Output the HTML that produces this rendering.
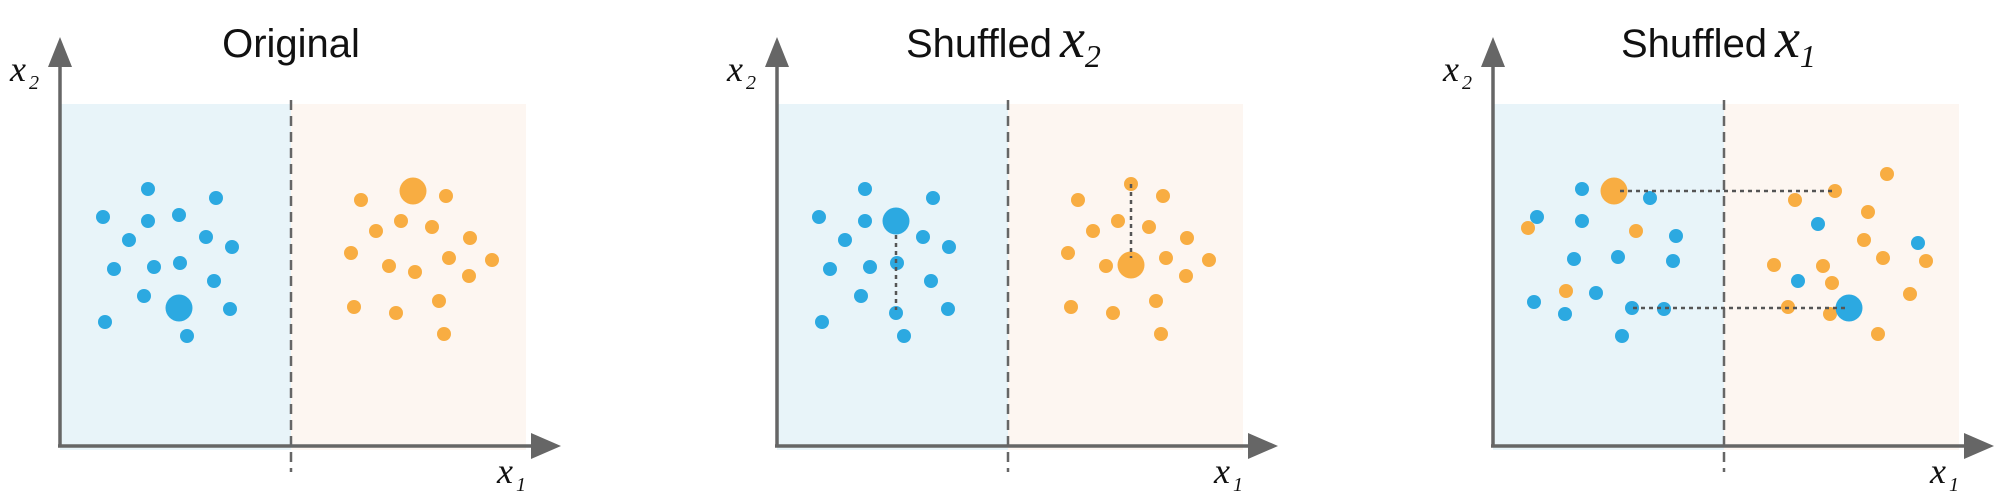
<!DOCTYPE html>
<html><head><meta charset="utf-8"><style>
html,body{margin:0;padding:0;background:#fff}
svg{display:block}
.t{font-family:"Liberation Sans",sans-serif;font-size:40px;fill:#111}
.m{font-family:"Liberation Serif",serif;font-style:italic;fill:#111}
</style></head><body>
<svg width="2000" height="500" viewBox="0 0 2000 500" xmlns="http://www.w3.org/2000/svg">
<defs>
<g id="frame">
  <rect x="60" y="104" width="231" height="346" fill="#e8f4f9"/>
  <rect x="291" y="104" width="235" height="346" fill="#fdf6f1"/>
  <line x1="291" y1="100" x2="291" y2="472" stroke="#666" stroke-width="2.5" stroke-dasharray="10,6"/>
  <line x1="60" y1="446" x2="60" y2="62" stroke="#666" stroke-width="3.5"/>
  <line x1="58" y1="446" x2="535" y2="446" stroke="#666" stroke-width="3.5"/>
  <polygon points="60,37 48,67 72,67" fill="#666"/>
  <polygon points="561,446 531,433 531,459" fill="#666"/>
  <text class="m" x="10" y="81" font-size="36">x</text><text class="m" x="29" y="89" font-size="20">2</text>
  <text class="m" x="497" y="483" font-size="36">x</text><text class="m" x="516" y="491" font-size="20">1</text>
</g>
</defs>

<!-- Panel 1 -->
<use href="#frame"/>
<text class="t" x="291" y="57" text-anchor="middle">Original</text>
<g fill="#2ca9e1">
<circle cx="148" cy="189" r="7"/><circle cx="216" cy="198" r="7"/><circle cx="103" cy="217" r="7"/><circle cx="148" cy="221" r="7"/><circle cx="179" cy="215" r="7"/><circle cx="129" cy="240" r="7"/><circle cx="206" cy="237" r="7"/><circle cx="232" cy="247" r="7"/><circle cx="114" cy="269" r="7"/><circle cx="154" cy="267" r="7"/><circle cx="180" cy="263" r="7"/><circle cx="214" cy="281" r="7"/><circle cx="144" cy="296" r="7"/><circle cx="179" cy="308" r="13.5"/><circle cx="230" cy="309" r="7"/><circle cx="105" cy="322" r="7"/><circle cx="187" cy="336" r="7"/>
</g>
<g fill="#f8ad42">
<circle cx="361" cy="200" r="7"/><circle cx="413" cy="191" r="13.5"/><circle cx="446" cy="196" r="7"/><circle cx="401" cy="221" r="7"/><circle cx="376" cy="231" r="7"/><circle cx="432" cy="227" r="7"/><circle cx="470" cy="238" r="7"/><circle cx="351" cy="253" r="7"/><circle cx="389" cy="266" r="7"/><circle cx="415" cy="272" r="7"/><circle cx="449" cy="258" r="7"/><circle cx="492" cy="260" r="7"/><circle cx="469" cy="276" r="7"/><circle cx="354" cy="307" r="7"/><circle cx="396" cy="313" r="7"/><circle cx="439" cy="301" r="7"/><circle cx="444" cy="334" r="7"/>
</g>

<!-- Panel 2 -->
<g transform="translate(717,0)">
<use href="#frame"/>
<text x="189" y="57"><tspan class="t">Shuffled</tspan><tspan class="m" dx="8" font-size="56">x</tspan><tspan class="m" font-size="32" dy="10">2</tspan></text>
<g fill="#2ca9e1">
<circle cx="148" cy="189" r="7"/><circle cx="216" cy="198" r="7"/><circle cx="102" cy="217" r="7"/><circle cx="148" cy="221" r="7"/><circle cx="179" cy="221" r="13.5"/><circle cx="128" cy="240" r="7"/><circle cx="206" cy="237" r="7"/><circle cx="232" cy="247" r="7"/><circle cx="113" cy="269" r="7"/><circle cx="153" cy="267" r="7"/><circle cx="180" cy="263" r="7"/><circle cx="214" cy="281" r="7"/><circle cx="144" cy="296" r="7"/><circle cx="179" cy="313" r="7"/><circle cx="231" cy="309" r="7"/><circle cx="105" cy="322" r="7"/><circle cx="187" cy="336" r="7"/>
</g>
<g fill="#f8ad42">
<circle cx="361" cy="200" r="7"/><circle cx="414" cy="184" r="7"/><circle cx="446" cy="196" r="7"/><circle cx="401" cy="221" r="7"/><circle cx="376" cy="231" r="7"/><circle cx="432" cy="227" r="7"/><circle cx="470" cy="238" r="7"/><circle cx="351" cy="253" r="7"/><circle cx="389" cy="266" r="7"/><circle cx="414" cy="265" r="13.5"/><circle cx="449" cy="258" r="7"/><circle cx="492" cy="260" r="7"/><circle cx="469" cy="276" r="7"/><circle cx="354" cy="307" r="7"/><circle cx="396" cy="313" r="7"/><circle cx="439" cy="301" r="7"/><circle cx="444" cy="334" r="7"/>
</g>
<g stroke="#555" stroke-width="2.5" stroke-dasharray="4,4">
<line x1="179" y1="235" x2="179" y2="310"/>
<line x1="414" y1="184" x2="414" y2="258"/>
</g>
</g>

<!-- Panel 3 -->
<g transform="translate(1433,0)">
<use href="#frame"/>
<text x="188" y="57"><tspan class="t">Shuffled</tspan><tspan class="m" dx="8" font-size="56">x</tspan><tspan class="m" font-size="32" dy="10">1</tspan></text>
<g fill="#2ca9e1">
<circle cx="149" cy="189" r="7"/><circle cx="217" cy="198" r="7"/><circle cx="104" cy="217" r="7"/><circle cx="149" cy="221" r="7"/><circle cx="243" cy="236" r="7"/><circle cx="141" cy="259" r="7"/><circle cx="185" cy="257" r="7"/><circle cx="240" cy="261" r="7"/><circle cx="385" cy="224" r="7"/><circle cx="485" cy="243" r="7"/><circle cx="365" cy="281" r="7"/><circle cx="163" cy="293" r="7"/><circle cx="101" cy="302" r="7"/><circle cx="132" cy="314" r="7"/><circle cx="199" cy="308" r="7"/><circle cx="231" cy="309" r="7"/><circle cx="189" cy="336" r="7"/>
</g>
<g fill="#f8ad42">
<circle cx="181" cy="191" r="13.5"/><circle cx="95" cy="228" r="7"/><circle cx="203" cy="231" r="7"/><circle cx="133" cy="291" r="7"/><circle cx="402" cy="191" r="7"/><circle cx="362" cy="200" r="7"/><circle cx="454" cy="174" r="7"/><circle cx="435" cy="212" r="7"/><circle cx="431" cy="240" r="7"/><circle cx="450" cy="258" r="7"/><circle cx="493" cy="261" r="7"/><circle cx="341" cy="265" r="7"/><circle cx="390" cy="266" r="7"/><circle cx="399" cy="283" r="7"/><circle cx="477" cy="294" r="7"/><circle cx="355" cy="307" r="7"/><circle cx="397" cy="314" r="7"/><circle cx="445" cy="334" r="7"/>
</g>
<circle cx="416" cy="308" r="13.5" fill="#2ca9e1"/>
<g stroke="#555" stroke-width="2.5" stroke-dasharray="4,4">
<line x1="187" y1="191" x2="402" y2="191"/>
<line x1="200" y1="308" x2="416" y2="308"/>
</g>
</g>
</svg>
</body></html>
